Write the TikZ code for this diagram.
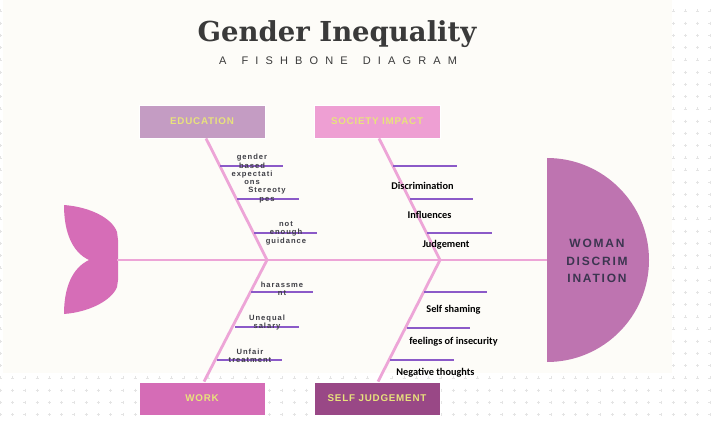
\documentclass[tikz,border=0pt]{standalone}
\usepackage{fontspec}
\setmainfont{Liberation Sans}
\newfontfamily\titlefont{DejaVu Serif}
\newfontfamily\subfont{Liberation Sans}[LetterSpace=65]
\newfontfamily\smallfont{Liberation Sans}[LetterSpace=13]
\newfontfamily\boxfont{Liberation Sans}[LetterSpace=8]
\newfontfamily\headfont{Liberation Sans}[LetterSpace=15]
\newfontfamily\handfont{Carlito}
\definecolor{bgc}{HTML}{FDFCF8}
\definecolor{crossc}{HTML}{E4E4E4}
\definecolor{titlec}{HTML}{3A3A3A}
\definecolor{bonec}{HTML}{EDA5D7}
\definecolor{subc}{HTML}{8B5AC8}
\definecolor{educ}{HTML}{C49CC3}
\definecolor{socc}{HTML}{EE9FD3}
\definecolor{workc}{HTML}{D56CB6}
\definecolor{selfc}{HTML}{994886}
\definecolor{headc}{HTML}{BE74B0}
\definecolor{tailc}{HTML}{D66DB7}
\definecolor{boxtextc}{HTML}{E8E27C}
\definecolor{headtextc}{HTML}{3C3550}
\definecolor{smalltextc}{HTML}{3F3F46}
\begin{document}
\begin{tikzpicture}[x=1pt,y=-1pt,
  catbox/.style={draw=white, line width=0.8pt, minimum width=126pt, minimum height=33pt, inner sep=0pt,
    text=boxtextc, font=\boxfont\bfseries\fontsize{9.8}{11}\selectfont},
  bone/.style={draw=bonec, line width=2.8pt},
  spine/.style={draw=bonec, line width=2.6pt},
  subbone/.style={draw=subc, line width=1.8pt},
  lefttext/.style={align=center, inner sep=0pt, text=smalltextc, font=\smallfont\bfseries\fontsize{7.6}{8.4}\selectfont},
  righttext/.style={inner sep=0pt, text=black, font=\handfont\bfseries\fontsize{10.3}{12}\selectfont},
  headtext/.style={align=center, inner sep=0pt, text=headtextc, font=\headfont\bfseries\fontsize{12}{17.5}\selectfont}
]
\useasboundingbox (0,0) rectangle (714,422);
\fill[white] (0,0) rectangle (714,422);
% faint grid of crosses
\foreach \i in {0,...,58} {
  \foreach \j in {0,...,34} {
    \draw[crossc, line width=0.5pt]
      ({0.5+12.23*\i-1.5},{11+12.23*\j}) -- ++(3,0)
      ({0.5+12.23*\i},{11+12.23*\j-1.5}) -- ++(0,3);
  }
}
% off-white panel
\fill[bgc] (3,0) rectangle (672,373);

% title
\node[anchor=base, text=titlec, font=\titlefont\bfseries\fontsize{27.5}{30}\selectfont] (title) at (337,41.7) {Gender Inequality};
\node[anchor=base west, inner sep=0pt, text=titlec, font=\subfont\fontsize{11}{13}\selectfont] (subtitle) at (219,65) {A\hspace{15pt}FISHBONE\hspace{15pt}DIAGRAM};

% head
\begin{scope}
  \clip (547,150) rectangle (665,372);
  \fill[headc] (547,260) circle[radius=102pt];
\end{scope}
\coordinate (head) at (547,260);
\node[headtext] (headlabel) at (597,261) {WOMAN\\DISCRIM\\INATION};

% tail
\fill[tailc] (64,205) .. controls (90,207) and (112,218) .. (117,232)
  -- (118,240) -- (118,280) -- (117,287)
  .. controls (112,300) and (90,312) .. (64,314)
  .. controls (64,288) and (72,268) .. (89,260)
  .. controls (72,252) and (64,232) .. (64,205) -- cycle;
\coordinate (tail) at (117,260);

% junctions
\coordinate (j1) at (267,260);
\coordinate (j2) at (440,260);

% spine
\draw[spine] (tail) -- (head);

% category boxes
\node[catbox, fill=educ] (edu) at (202,121.5) {EDUCATION};
\node[catbox, fill=socc] (soc) at (377,121.5) {SOCIETY IMPACT};
\node[catbox, fill=workc] (work) at (202,398.5) {WORK};
\node[catbox, fill=selfc] (self) at (377,398.5) {SELF JUDGEMENT};

% main bones
\draw[bone] ([xshift=4pt]edu.south) -- (j1);
\draw[bone] (j1) -- ([xshift=2pt]work.north);
\draw[bone] ([xshift=2pt]soc.south) -- (j2);
\draw[bone] (j2) -- ([xshift=1pt]self.north);

% education sub-bones
\coordinate (e1a) at (220,166); \coordinate (e1b) at (283,166);
\coordinate (e2a) at (237,199); \coordinate (e2b) at (299,199);
\coordinate (e3a) at (254,233); \coordinate (e3b) at (317,233);
\draw[subbone] (e1a) -- (e1b);
\draw[subbone] (e2a) -- (e2b);
\draw[subbone] (e3a) -- (e3b);
\node[lefttext] (t1) at (252,169.5) {gender\\based\\expectati\\ons};
\node[lefttext] (t2) at (267,195) {Stereoty\\pes};
\node[lefttext] (t3) at (286,233) {not\\enough\\guidance};

% work sub-bones
\coordinate (w1a) at (251,292); \coordinate (w1b) at (313,292);
\coordinate (w2a) at (235,327); \coordinate (w2b) at (299,327);
\coordinate (w3a) at (217,360); \coordinate (w3b) at (282,360);
\draw[subbone] (w1a) -- (w1b);
\draw[subbone] (w2a) -- (w2b);
\draw[subbone] (w3a) -- (w3b);
\node[lefttext] (t4) at (282,288.5) {harassme\\nt};
\node[lefttext] (t5) at (267,322.5) {Unequal\\salary};
\node[lefttext] (t6) at (250,355.5) {Unfair\\treatment};

% society sub-bones
\coordinate (s1a) at (393,166); \coordinate (s1b) at (457,166);
\coordinate (s2a) at (410,199); \coordinate (s2b) at (473,199);
\coordinate (s3a) at (427,233); \coordinate (s3b) at (492,233);
\draw[subbone] (s1a) -- (s1b);
\draw[subbone] (s2a) -- (s2b);
\draw[subbone] (s3a) -- (s3b);
\node[righttext] (t7) at (422.5,186) {Discrimination};
\node[righttext] (t8) at (429.5,215) {Influences};
\node[righttext] (t9) at (446,245) {Judgement};

% self judgement sub-bones
\coordinate (g1a) at (424,292); \coordinate (g1b) at (487,292);
\coordinate (g2a) at (407,328); \coordinate (g2b) at (470,328);
\coordinate (g3a) at (390,360); \coordinate (g3b) at (454,360);
\draw[subbone] (g1a) -- (g1b);
\draw[subbone] (g2a) -- (g2b);
\draw[subbone] (g3a) -- (g3b);
\node[righttext] (t10) at (453.5,310) {Self shaming};
\node[righttext] (t11) at (453.5,342) {feelings of insecurity};
\node[righttext] (t12) at (435.5,373) {Negative thoughts};
\end{tikzpicture}
\end{document}
